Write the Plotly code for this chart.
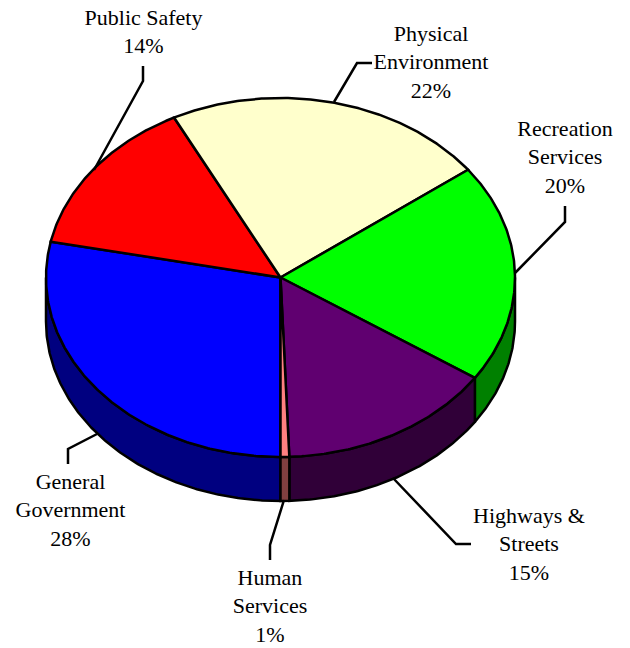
import numpy as np
import plotly.graph_objects as go

# Slice data, clockwise from the bottom of the pie
categories = ["General Government", "Public Safety", "Physical Environment",
              "Recreation Services", "Highways & Streets", "Human Services"]
values = [28.2, 14.3, 22.25, 19.7, 14.95, 0.6]
top_colors = ["#0000FF", "#FF0000", "#FFFFCC", "#00FF00", "#600070", "#FF8080"]
side_colors = ["#000080", "#800000", "#808066", "#008000", "#300038", "#804040"]

# Label text, line by line
label_lines = [
    ["General", "Government", "28%"],
    ["Public Safety", "14%"],
    ["Physical", "Environment", "22%"],
    ["Recreation", "Services", "20%"],
    ["Highways &", "Streets", "15%"],
    ["Human", "Services", "1%"],
]
label_x = [70.5, 143.5, 431, 565, 529, 270]
label_y0 = [483.5, 19.5, 35.5, 130.5, 517.5, 579.5]
line_step = 28.3

# Leader lines (pixel layout)
leader_x = [[97, 68, 68], [94, 143, 143], [334, 357, 372], [515, 565, 565], [393, 456, 471], [284, 270, 270]]
leader_y = [[434, 449, 464], [170, 81, 66], [102, 63, 63], [273, 222, 206], [478, 544, 544], [500, 545, 560]]

# Pie geometry (pixel layout)
CX, CY, RX, RY, DEPTH = 280.5, 277.5, 234.5, 179.5, 44
START_DEG = 180
LW = 2.5


def arc(a0, a1, dy=0.0):
    n = max(2, int(abs(a1 - a0)) * 2 + 2)
    t = np.radians(np.linspace(a0, a1, n))
    return CX + RX * np.sin(t), CY - RY * np.cos(t) + dy


fig = go.Figure()
line = dict(color="black", width=LW)
cum = START_DEG
edges = []
for v in values:
    edges.append((cum, cum + v * 3.6))
    cum += v * 3.6


def add_poly(x, y, fill):
    fig.add_trace(go.Scatter(x=x, y=y, mode="lines", fill="toself", fillcolor=fill,
                             line=line, hoverinfo="skip", showlegend=False))


# Side walls: only the front half of the rim (90..270 deg) is visible
for (a0, a1), c in zip(edges, side_colors):
    for shift in (0, 360):
        s0, s1 = max(a0 - shift, 90), min(a1 - shift, 270)
        if s1 > s0:
            xt, yt = arc(s0, s1)
            xb, yb = arc(s0, s1, DEPTH)
            add_poly(np.r_[xt, xb[::-1], xt[0]], np.r_[yt, yb[::-1], yt[0]], c)

# Top faces
for (a0, a1), c in zip(edges, top_colors):
    xt, yt = arc(a0, a1)
    add_poly(np.r_[CX, xt, CX], np.r_[CY, yt, CY], c)

# Leaders
for lx, ly in zip(leader_x, leader_y):
    fig.add_trace(go.Scatter(x=lx, y=ly, mode="lines", line=dict(color="black", width=LW),
                             hoverinfo="skip", showlegend=False))

# Labels
for lines, x, y0 in zip(label_lines, label_x, label_y0):
    fig.add_trace(go.Scatter(
        x=[x] * len(lines), y=[y0 + i * line_step for i in range(len(lines))],
        mode="text", text=lines, textposition="middle center",
        textfont=dict(family="Liberation Serif", size=22, color="black"),
        hoverinfo="skip", showlegend=False))

fig.update_layout(
    width=630, height=648, margin=dict(l=0, r=0, t=0, b=0),
    paper_bgcolor="white", plot_bgcolor="white",
    xaxis=dict(range=[0, 630], visible=False, fixedrange=True),
    yaxis=dict(range=[648, 0], visible=False, fixedrange=True),
)
fig.write_html("out.html", config={"displayModeBar": False},
               post_script="document.body.style.margin='0';document.body.style.overflow='hidden';")
